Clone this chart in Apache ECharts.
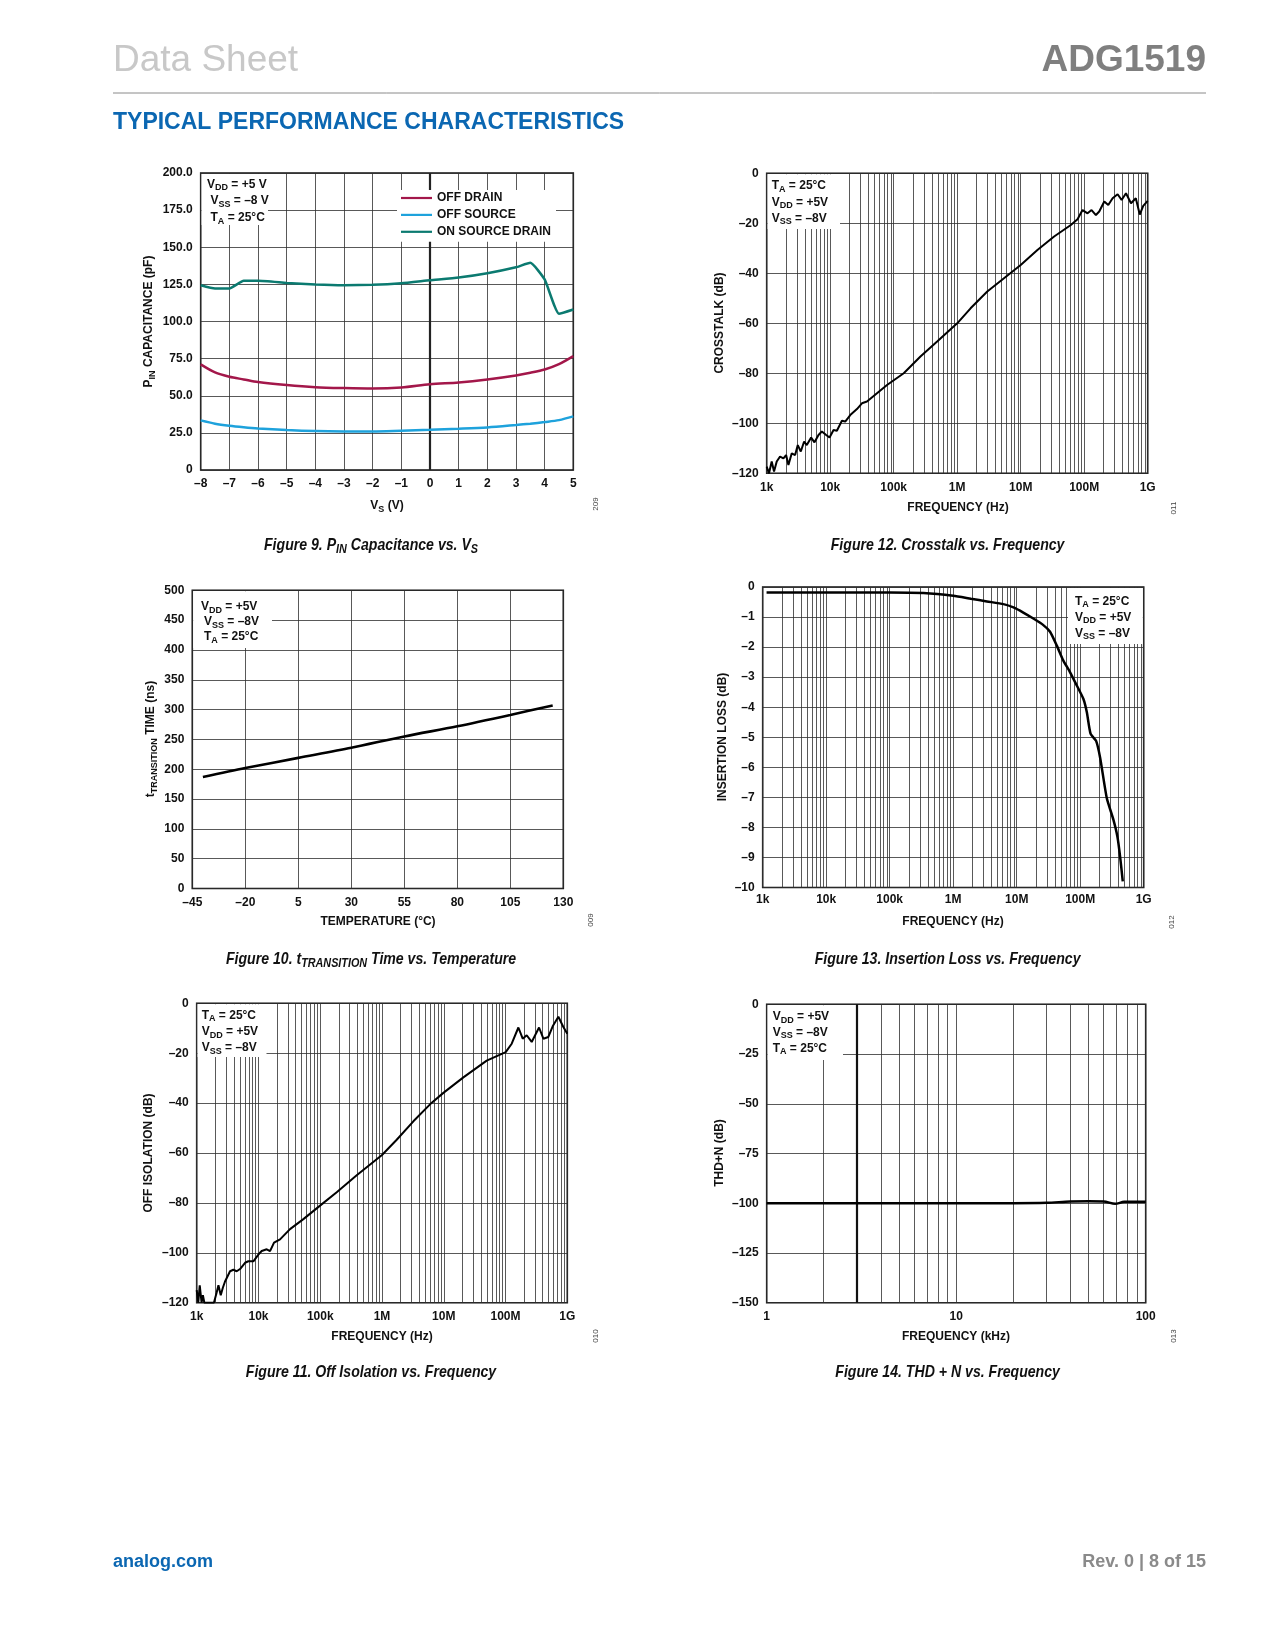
<!DOCTYPE html>
<html><head><meta charset="utf-8">
<script src="https://cdn.jsdelivr.net/npm/echarts@6/dist/echarts.min.js"></script>
<style>html,body{margin:0;padding:0;background:#fff}#c{width:1275px;height:1650px}</style>
</head><body><div id="c"></div>
<script>
// ---------------- DATA ----------------
// Figure 9: PIN capacitance vs VS
const fig9Vs = [-8,-7.5,-7,-6.5,-6,-5,-4,-3,-2,-1,0,1,2,3,3.5,4,4.5,5];
const fig9OffDrain = [71.1,65.7,62.8,61.0,59.2,57.2,55.8,55.2,54.9,55.6,57.8,59.0,61.0,63.7,65.5,67.7,71.3,76.7];
const fig9OffSource = [33.4,31.2,29.8,28.8,28.0,26.9,26.2,26.0,26.0,26.5,27.1,27.8,28.7,30.3,31.2,32.3,33.6,36.1];
const fig9OnSourceDrain = [124.4,122.2,122.2,127.4,127.4,126.0,124.9,124.4,124.7,125.8,127.8,129.6,132.5,136.5,139.5,128.3,105.2,108.1];
const fig9SeriesNames = ['OFF DRAIN','OFF SOURCE','ON SOURCE DRAIN'];

// Figure 10: tTRANSITION vs temperature
const fig10Temp = [-40,-20,5,30,55,80,105,125];
const fig10Time = [187,202,219,236,255,272,291,307];

// Figure 11: off isolation vs frequency
const fig11Freq = [1000,1060,1120,1200,1260,1330,1600,1900,2100,2250,2450,2650,2875,
  3464,3924,4442,5030,6061,6863,8270,9963,
  11281,13594,15394,17865,22349,32441,53340,100500,184800,389500,
  1.0e6,1.73e6,3.22e6,5.99e6,9.97e6,2.077e7,4.957e7,1.006e8,1.259e8,1.614e8,
  1.897e8,2.2e8,2.653e8,3.487e8,4.098e8,4.936e8,5.801e8,7.167e8,8.636e8,1e9];
const fig11Isolation = [-115,-120,-113,-120,-117,-120,-120,-120,-116,-113,-117,-114,-111.5,
  -107.4,-106.8,-107.4,-106.5,-104,-103.4,-103.4,-100.7,
  -99.3,-98.6,-99.3,-95.9,-94.6,-90.5,-86.5,-81,-75.7,-68.9,
  -60.8,-54.7,-47.3,-40.5,-35.8,-29.7,-23,-19.6,-16.2,-9.7,
  -14.2,-12.8,-15.5,-9.7,-14.2,-13.5,-9.2,-5.4,-9.5,-12.2];

// Figure 12: crosstalk vs frequency
const fig12Freq = [1000,1088,1199,1305,1438,1624,1833,2020,2198,2481,
  2802,3087,3442,3886,4281,5012,5657,6543,7386,8646,
  9761,11290,12745,15290,17252,20692,26367,31623,37927,54556,
  78476,143870,263740,483300,1e6,1.624e6,2.976e6,5.456e6,1e7,1.833e7,
  3.36e7,6.16e7,7.85e7,9.41e7,1.129e8,1.306e8,1.529e8,1.725e8,2.07e8,2.393e8,
  2.802e8,3.36e8,3.886e8,4.55e8,5.456e8,6.5e8,7.5e8,8.5e8,1e9];
const fig12Crosstalk = [-117.3,-120,-115.3,-119.3,-115.3,-113.3,-114,-112.7,-116.7,-112,
  -112.7,-108.7,-111.3,-107.3,-108.7,-105.7,-107.6,-104.7,-103.3,-104.7,
  -105.7,-102.7,-103,-99,-99.3,-96.7,-94.3,-92,-91.3,-88,
  -84.7,-80,-73.3,-67.3,-60,-54,-47.3,-42,-36.7,-30.7,
  -25.3,-20.7,-18.4,-14.7,-16,-14.7,-16.7,-15.3,-11.3,-12.7,
  -10,-8.4,-10.7,-8,-12,-10,-16.5,-13,-11];

// Figure 13: insertion loss vs frequency
const fig13Freq = [1150,1e4,1e5,3.4e5,1e6,1.9e6,3.4e6,6.2e6,8.9e6,1.27e7,1.8e7,2.6e7,3.35e7,4.3e7,5.4e7,6.9e7,8.8e7,1.12e8,1.27e8,1.46e8,1.78e8,2.06e8,2.62e8,3.33e8,3.85e8,4.25e8,4.68e8];
const fig13Loss = [-0.18,-0.18,-0.18,-0.2,-0.29,-0.39,-0.48,-0.57,-0.68,-0.85,-1.04,-1.26,-1.49,-1.96,-2.44,-2.83,-3.27,-3.72,-4.16,-4.89,-5.12,-5.68,-7.02,-7.74,-8.3,-8.97,-9.8];

// Figure 14: THD+N vs frequency
const fig14FreqKHz = [1,2,5,10,20,30,40,50,60,69,77,100];
const fig14Thd = [-100,-100,-100,-100,-100,-99.8,-99.1,-99,-99.1,-100.3,-99.3,-99.2];

// tick labels
const hzTickLabels = ['1k','10k','100k','1M','10M','100M','1G'];
const khzTickLabels = ['1','10','100'];

// ---------------- HELPERS ----------------
const F = '"Liberation Sans", Arial, Helvetica, sans-serif';
const CAPS = 17, CAPSX = 0.83;   // condensed bold-italic caption look

const zip = (a,b)=>a.map((v,i)=>[v,b[i]]);
const dash = v => v<0 ? '\u2013'+Math.abs(v) : String(v);
const LBL = {color:'#111', fontFamily:F, fontWeight:'bold', fontSize:12};
const SPLIT = {show:true, lineStyle:{color:'#2e2e2e', width:0.8}};
function minorLog(e0,e1){const o=[];for(let e=e0;e<e1;e++)for(let k=2;k<=9;k++)o.push(k*Math.pow(10,e));return o;}
function minorMark(vals, thick){
  return {silent:true, z:1, symbol:['none','none'], label:{show:false}, animation:false,
    lineStyle:{color:'#2e2e2e', width:0.8, type:'solid'}, emphasis:{disabled:true},
    data: vals.map(v=>{const d={xAxis:v}; if(thick && thick.indexOf(v)>=0) d.lineStyle={width:2.2,color:'#111',type:'solid'}; return d;})};
}
function logLabel(arr, base){return v=>{const i=Math.round(Math.log10(v))-base;return arr[i]!==undefined?arr[i]:'';};}

function richSet(size, weight, style, family){
  return {
    n:{fontSize:size, fontWeight:weight, fontStyle:style, fontFamily:family, fill:'#111', lineHeight:size+4},
    s:{fontSize:Math.round(size*0.75), fontWeight:weight, fontStyle:style, fontFamily:family, fill:'#111', lineHeight:Math.round(size*0.7), verticalAlign:'bottom'}
  };
}
const R12 = richSet(12,'bold','normal',F);
const RCAP = richSet(CAPS,'bold','italic',F);
function rt(x,y,text,rich,opt){
  opt=opt||{};
  return {type:'text', x:x, y:y, z:21, rotation:opt.rot||0, scaleX:opt.sx||1, silent:true,
    style:{text:text, rich:rich, align:opt.align||'left', verticalAlign:'middle'}};
}
function ptxt(x,y,text,size,weight,fill,align,rot,family){
  return {type:'text', x:x, y:y, z:21, rotation:rot||0, silent:true,
    style:{text:text, fontSize:size, fontWeight:weight, fontFamily:family||F, fill:fill, align:align||'left', verticalAlign:'middle'}};
}
function box(x0,y0,x1,y1){return {type:'rect', z:15, silent:true, shape:{x:x0,y:y0,width:x1-x0,height:y1-y0}, style:{fill:'#fff'}};}

// ---------------- GRIDS ----------------
const gridStyle = {show:true, borderColor:'#111', borderWidth:1.6, backgroundColor:'transparent'};
const grids = [
  Object.assign({left:200.7, top:173, width:372.6, height:297}, gridStyle),   // fig 9
  Object.assign({left:766.7, top:173.3, width:381, height:300}, gridStyle),   // fig 12
  Object.assign({left:192.3, top:590.3, width:371, height:298.2}, gridStyle), // fig 10
  Object.assign({left:762.7, top:587, width:381, height:300.5}, gridStyle),   // fig 13
  Object.assign({left:196.7, top:1003.3, width:370.6, height:299.4}, gridStyle), // fig 11
  Object.assign({left:766.7, top:1004.3, width:379, height:298.4}, gridStyle)    // fig 14
];
const noLine = {show:false};
function linX(gi,min,max,interval,margin){return {type:'value', gridIndex:gi, min:min, max:max, interval:interval, axisLine:noLine, axisTick:noLine, splitLine:SPLIT, axisLabel:Object.assign({margin:margin, formatter:dash}, LBL)};}
function logX(gi,min,max,labels,base,margin){return {type:'log', logBase:10, gridIndex:gi, min:min, max:max, splitNumber:6, axisLine:noLine, axisTick:noLine, minorTick:{show:false}, splitLine:SPLIT, axisLabel:Object.assign({margin:margin, formatter:logLabel(labels,base)}, LBL)};}
function linY(gi,min,max,interval,fmt){return {type:'value', gridIndex:gi, min:min, max:max, interval:interval, axisLine:noLine, axisTick:noLine, splitLine:SPLIT, axisLabel:Object.assign({margin:8, formatter:fmt||dash}, LBL)};}

const xAxes = [
  linX(0,-8,5,1,8),
  logX(1,1e3,1e9,hzTickLabels,3,8),
  linX(2,-45,130,25,8),
  logX(3,1e3,1e9,hzTickLabels,3,6),
  logX(4,1e3,1e9,hzTickLabels,3,8),
  logX(5,1,100,khzTickLabels,0,8)
];
const yAxes = [
  linY(0,0,200,25,v=>v===0?'0':v.toFixed(1)),
  linY(1,-120,0,20),
  linY(2,0,500,50),
  linY(3,-10,0,1),
  linY(4,-120,0,20),
  linY(5,-150,0,25)
];

const series = [
  {type:'line', name:fig9SeriesNames[0], xAxisIndex:0, yAxisIndex:0, data:zip(fig9Vs,fig9OffDrain), symbol:'none', smooth:0.3,
   lineStyle:{color:'#a3174a', width:2.5}, itemStyle:{color:'#a3174a'},
   markLine:{silent:true, z:1, symbol:['none','none'], label:{show:false}, animation:false, lineStyle:{color:'#222', width:2.2, type:'solid'}, data:[{xAxis:0}]}},
  {type:'line', name:fig9SeriesNames[1], xAxisIndex:0, yAxisIndex:0, data:zip(fig9Vs,fig9OffSource), symbol:'none', smooth:0.3,
   lineStyle:{color:'#1ea2dc', width:2.5}, itemStyle:{color:'#1ea2dc'}},
  {type:'line', name:fig9SeriesNames[2], xAxisIndex:0, yAxisIndex:0, data:zip(fig9Vs,fig9OnSourceDrain), symbol:'none', smooth:0.15,
   lineStyle:{color:'#0b7a70', width:2.5}, itemStyle:{color:'#0b7a70'}},
  {type:'line', xAxisIndex:1, yAxisIndex:1, data:zip(fig12Freq,fig12Crosstalk), symbol:'none', smooth:false,
   lineStyle:{color:'#000', width:2}, markLine:minorMark(minorLog(3,9))},
  {type:'line', xAxisIndex:2, yAxisIndex:2, data:zip(fig10Temp,fig10Time), symbol:'none', smooth:0.3,
   lineStyle:{color:'#000', width:2.6}},
  {type:'line', xAxisIndex:3, yAxisIndex:3, data:zip(fig13Freq,fig13Loss), symbol:'none', smooth:0.2,
   lineStyle:{color:'#000', width:2.5}, markLine:minorMark(minorLog(3,9))},
  {type:'line', xAxisIndex:4, yAxisIndex:4, data:zip(fig11Freq,fig11Isolation), symbol:'none', smooth:false,
   lineStyle:{color:'#000', width:2}, markLine:minorMark(minorLog(3,9))},
  {type:'line', xAxisIndex:5, yAxisIndex:5, data:zip(fig14FreqKHz,fig14Thd), symbol:'none', smooth:0.3,
   lineStyle:{color:'#000', width:2.5}, markLine:minorMark(minorLog(0,2),[3])}
];

// ---------------- TEXT / GRAPHICS ----------------
const G = [];
G.push(ptxt(113,61,'Data Sheet',37,'normal','#c8c8c8'));
G.push(ptxt(1206,61,'ADG1519',37,'bold','#7f7f7f','right'));
G.push({type:'line', z:21, silent:true, shape:{x1:113,y1:93,x2:1206,y2:93}, style:{stroke:'#8a8a8a', lineWidth:1}});
G.push(ptxt(113,123,'TYPICAL PERFORMANCE CHARACTERISTICS',23,'bold','#0b67b2'));
G.push(ptxt(113,1562,'analog.com',18,'bold','#0b67b2'));
G.push(ptxt(1206,1562,'Rev. 0 | 8 of 15',18,'bold','#8a8a8a','right'));

// annotation boxes
G.push(box(201.6,173.9,268,225));
G.push(rt(207,184.3,'{n|V}{s|DD}{n| = +5 V}',R12));
G.push(rt(210.5,201,'{n|V}{s|SS}{n| = \u20138 V}',R12));
G.push(rt(210.5,217.7,'{n|T}{s|A}{n| = 25\u00b0C}',R12));

G.push(box(767.6,174.2,840,229));
G.push(rt(771.7,185.7,'{n|T}{s|A}{n| = 25\u00b0C}',R12));
G.push(rt(771.7,202.3,'{n|V}{s|DD}{n| = +5V}',R12));
G.push(rt(771.7,218.3,'{n|V}{s|SS}{n| = \u20138V}',R12));

G.push(box(193.2,591.2,272,648));
G.push(rt(201,607,'{n|V}{s|DD}{n| = +5V}',R12));
G.push(rt(204,622,'{n|V}{s|SS}{n| = \u20138V}',R12));
G.push(rt(204,637,'{n|T}{s|A}{n| = 25\u00b0C}',R12));

G.push(box(1068,587.9,1142.8,644));
G.push(rt(1075,601.5,'{n|T}{s|A}{n| = 25\u00b0C}',R12));
G.push(rt(1075,617.5,'{n|V}{s|DD}{n| = +5V}',R12));
G.push(rt(1075,633.5,'{n|V}{s|SS}{n| = \u20138V}',R12));

G.push(box(197.6,1004.2,266.5,1057));
G.push(rt(201.7,1015.5,'{n|T}{s|A}{n| = 25\u00b0C}',R12));
G.push(rt(201.7,1031.7,'{n|V}{s|DD}{n| = +5V}',R12));
G.push(rt(201.7,1048,'{n|V}{s|SS}{n| = \u20138V}',R12));

G.push(box(767.6,1005.2,843,1060));
G.push(rt(772.7,1016.7,'{n|V}{s|DD}{n| = +5V}',R12));
G.push(rt(772.7,1032.5,'{n|V}{s|SS}{n| = \u20138V}',R12));
G.push(rt(772.7,1048.5,'{n|T}{s|A}{n| = 25\u00b0C}',R12));

// axis titles
const ROT = Math.PI/2;
G.push(rt(148.6,321.5,'{n|P}{s|IN}{n| CAPACITANCE (pF)}',R12,{align:'center',rot:ROT}));
G.push(rt(387,506,'{n|V}{s|S}{n| (V)}',R12,{align:'center'}));
G.push(ptxt(720,323,'CROSSTALK (dB)',12,'bold','#111','center',ROT));
G.push(ptxt(958,508,'FREQUENCY (Hz)',12,'bold','#111','center'));
G.push(rt(151,739,'{n|t}{s|TRANSITION}{n| TIME (ns)}',R12,{align:'center',rot:ROT}));
G.push(ptxt(378,922,'TEMPERATURE (\u00b0C)',12,'bold','#111','center'));
G.push(ptxt(723,737,'INSERTION LOSS (dB)',12,'bold','#111','center',ROT));
G.push(ptxt(953,922,'FREQUENCY (Hz)',12,'bold','#111','center'));
G.push(ptxt(148.3,1153,'OFF ISOLATION (dB)',12,'bold','#111','center',ROT));
G.push(ptxt(382,1336.5,'FREQUENCY (Hz)',12,'bold','#111','center'));
G.push(ptxt(720,1153,'THD+N (dB)',12,'bold','#111','center',ROT));
G.push(ptxt(956,1336.5,'FREQUENCY (kHz)',12,'bold','#111','center'));

// figure codes
G.push(ptxt(595.5,504,'209',8,'normal','#444','center',ROT));
G.push(ptxt(1174,508,'011',8,'normal','#444','center',ROT));
G.push(ptxt(591,920,'009',8,'normal','#444','center',ROT));
G.push(ptxt(1172,922,'012',8,'normal','#444','center',ROT));
G.push(ptxt(595.5,1336,'010',8,'normal','#444','center',ROT));
G.push(ptxt(1174,1336,'013',8,'normal','#444','center',ROT));

// captions
const capOpt = {align:'center', sx:CAPSX};
G.push(rt(371,545,'{n|Figure 9. P}{s|IN}{n| Capacitance vs. V}{s|S}',RCAP,capOpt));
G.push(rt(947.6,545,'{n|Figure 12. Crosstalk vs. Frequency}',RCAP,capOpt));
G.push(rt(371,959,'{n|Figure 10. t}{s|TRANSITION}{n| Time vs. Temperature}',RCAP,capOpt));
G.push(rt(947.6,959,'{n|Figure 13. Insertion Loss vs. Frequency}',RCAP,capOpt));
G.push(rt(371,1372,'{n|Figure 11. Off Isolation vs. Frequency}',RCAP,capOpt));
G.push(rt(947.6,1372,'{n|Figure 14. THD + N vs. Frequency}',RCAP,capOpt));

const chart = echarts.init(document.getElementById('c'), null, {renderer:'canvas'});
chart.setOption({
  animation:false,
  backgroundColor:'#fff',
  grid:grids,
  xAxis:xAxes,
  yAxis:yAxes,
  legend:{data:fig9SeriesNames, orient:'vertical', left:397, top:190, icon:'rect', itemWidth:31, itemHeight:2.2, itemGap:2.9,
    backgroundColor:'#fff', padding:[1,5,3,4], selectedMode:false, z:4,
    textStyle:{fontFamily:F, fontWeight:'bold', fontSize:12, color:'#111', lineHeight:14}},
  series:series,
  graphic:{elements:G}
});
</script>
</body></html>
